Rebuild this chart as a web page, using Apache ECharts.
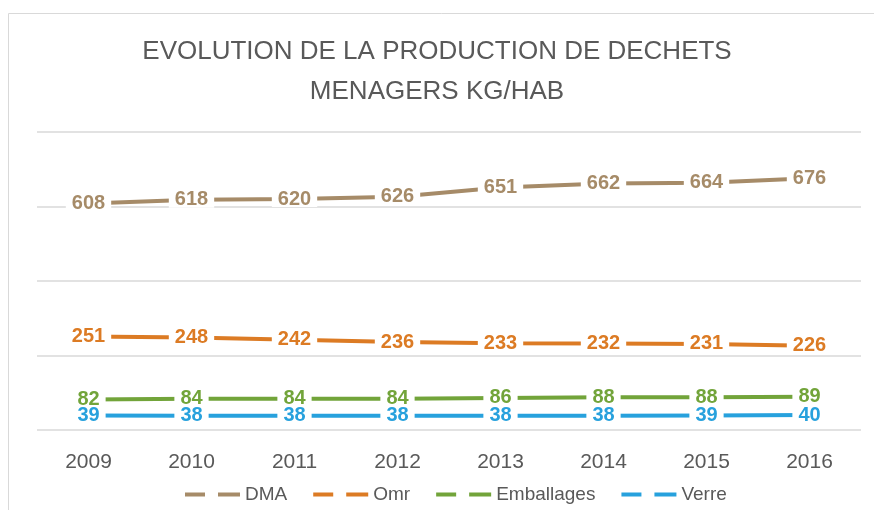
<!DOCTYPE html>
<html>
<head>
<meta charset="utf-8">
<script src="https://cdn.jsdelivr.net/npm/echarts@6/dist/echarts.min.js"></script>
<style>
  html, body { margin: 0; padding: 0; background: #fff; }
  #chart { width: 874px; height: 510px; }
</style>
</head>
<body>
<div id="chart"></div>
<script>
  // données
  var years = ['2009', '2010', '2011', '2012', '2013', '2014', '2015', '2016'];
  var dma = [608, 618, 620, 626, 651, 662, 664, 676];
  var omr = [251, 248, 242, 236, 233, 232, 231, 226];
  var emballages = [82, 84, 84, 84, 86, 88, 88, 89];
  var verre = [39, 38, 38, 38, 38, 38, 39, 40];
  var yTicks = [0, 200, 400, 600, 800];

  var font = "'Liberation Sans', Arial, sans-serif";
  // icone de légende : deux tirets
  var dashIcon = 'path://M0,0H20V4H0Z M33,0H55V4H33Z';

  function serie(name, data, color) {
    return {
      name: name,
      type: 'line',
      data: data,
      symbol: 'circle',
      symbolSize: 0.1,
      showSymbol: true,
      lineStyle: {width: 4, color: color},
      itemStyle: {color: color},
      label: {
        show: true,
        position: 'inside',
        color: color,
        fontFamily: font,
        fontWeight: 'bold',
        fontSize: 20,
        lineHeight: 16,
        backgroundColor: '#fff',
        padding: [0, 6]
      }
    };
  }

  var chart = echarts.init(document.getElementById('chart'));
  chart.setOption({
    animation: false,
    title: {
      text: 'EVOLUTION DE LA PRODUCTION DE DECHETS\nMENAGERS KG/HAB',
      left: 'center',
      top: 27,
      textStyle: {
        fontFamily: font,
        fontWeight: 'normal',
        fontSize: 26,
        lineHeight: 40,
        color: '#595959'
      }
    },
    graphic: [{
      type: 'rect',
      shape: {x: 8.5, y: 13.5, width: 900, height: 520},
      style: {fill: 'none', stroke: '#d9d9d9', lineWidth: 1}
    }],
    legend: {
      bottom: 1,
      left: 180,
      icon: dashIcon,
      itemWidth: 55,
      itemHeight: 4,
      itemGap: 26,
      textStyle: {fontFamily: font, fontSize: 19, color: '#595959'}
    },
    grid: {left: 37, right: 13, top: 132, bottom: 80},
    xAxis: {
      type: 'category',
      data: years,
      axisLine: {show: false},
      axisTick: {show: false},
      axisLabel: {
        margin: 22,
        fontFamily: font,
        fontSize: 21,
        color: '#595959'
      }
    },
    yAxis: {
      type: 'value',
      min: yTicks[0],
      max: yTicks[yTicks.length - 1],
      interval: yTicks[1] - yTicks[0],
      axisLabel: {show: false},
      axisLine: {show: false},
      axisTick: {show: false},
      splitLine: {lineStyle: {color: '#d9d9d9', width: 1.5}}
    },
    series: [
      serie('DMA', dma, '#a68b68'),
      serie('Omr', omr, '#dc7b24'),
      serie('Emballages', emballages, '#72a43a'),
      serie('Verre', verre, '#27a1dd')
    ]
  });
</script>
</body>
</html>
